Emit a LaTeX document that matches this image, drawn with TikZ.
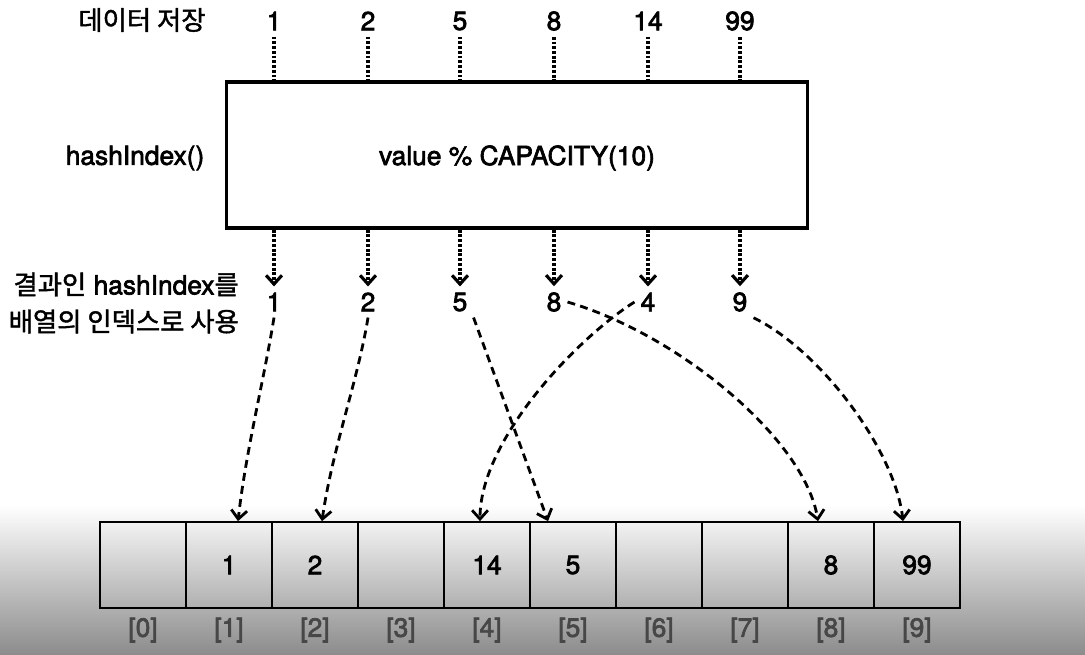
\documentclass[tikz,border=0pt]{standalone}
\usepackage{fontspec}
\setmainfont{TeX Gyre Heros}[FakeBold=2.5]
\newfontfamily\kofont{Noto Sans CJK KR}[FakeBold=1.5]
\usetikzlibrary{arrows.meta}

\begin{document}
\begin{tikzpicture}[x=0.02cm,y=-0.02cm,
  every node/.style={font=\fontsize{15}{18}\selectfont},
  cell/.style={draw,line width=1pt,minimum width=1.72cm,minimum height=1.72cm,inner sep=0pt},
  idx/.style={text=black!72},
  feed/.style={line width=1.8pt,dash pattern=on 1.6pt off 1.1pt},
  tip/.style={-{Straight Barb[length=5pt,width=9pt]}},
  place/.style={line width=1.6pt,dash pattern=on 4.5pt off 3pt,tip}]

\useasboundingbox (0,0) rectangle (1085,654);
\shade[top color=white,bottom color=black!45] (0,505) rectangle (1085,654);

% input values
\node (store) at (142,20) {\kofont 데이터 저장};
\node (n1) at (274,21) {1};
\node (n2) at (368,21) {2};
\node (n3) at (460,21) {5};
\node (n4) at (554,21) {8};
\node (n5) at (648,21) {14};
\node (n6) at (740,21) {99};

% hash function
\node[draw,line width=2pt,minimum width=11.62cm,minimum height=2.92cm] (hash) at (517,155) {};
\node (calc) at (517,158) {value \% CAPACITY(10)};
\node (fn) at (135,158) {hashIndex()};

\draw[feed] (n1) -- (n1 |- hash.north);
\draw[feed] (n2) -- (n2 |- hash.north);
\draw[feed] (n3) -- (n3 |- hash.north);
\draw[feed] (n4) -- (n4 |- hash.north);
\draw[feed] (n5) -- (n5 |- hash.north);
\draw[feed] (n6) -- (n6 |- hash.north);

% resulting indexes
\node (r1) at (274,302) {1};
\node (r2) at (368,302) {2};
\node (r3) at (460,302) {5};
\node (r4) at (554,302) {8};
\node (r5) at (648,302) {4};
\node (r6) at (740,302) {9};
\node[anchor=east,align=right,font=\fontsize{15}{21}\selectfont] (note) at (245,303)
  {{\kofont 결과인} hashIndex{\kofont 를}\\{\kofont 배열의 인덱스로 사용}};

\draw[feed,tip] (hash.south -| r1) -- (r1.north);
\draw[feed,tip] (hash.south -| r2) -- (r2.north);
\draw[feed,tip] (hash.south -| r3) -- (r3.north);
\draw[feed,tip] (hash.south -| r4) -- (r4.north);
\draw[feed,tip] (hash.south -| r5) -- (r5.north);
\draw[feed,tip] (hash.south -| r6) -- (r6.north);

% array
\node[cell] (c0) at (143,565) {};
\node[cell] (c1) at (229,565) {1};
\node[cell] (c2) at (315,565) {2};
\node[cell] (c3) at (401,565) {};
\node[cell] (c4) at (487,565) {14};
\node[cell] (c5) at (573,565) {5};
\node[cell] (c6) at (659,565) {};
\node[cell] (c7) at (745,565) {};
\node[cell] (c8) at (831,565) {8};
\node[cell] (c9) at (917,565) {99};

\node[idx] (i0) at (143,630) {[0]};
\node[idx] (i1) at (229,630) {[1]};
\node[idx] (i2) at (315,630) {[2]};
\node[idx] (i3) at (401,630) {[3]};
\node[idx] (i4) at (487,630) {[4]};
\node[idx] (i5) at (573,630) {[5]};
\node[idx] (i6) at (659,630) {[6]};
\node[idx] (i7) at (745,630) {[7]};
\node[idx] (i8) at (831,630) {[8]};
\node[idx] (i9) at (917,630) {[9]};

% index -> slot
\draw[place] (r1.south) .. controls (264,380) and (246,450) .. ([xshift=0.18cm]c1.north);
\draw[place] (r2.south) .. controls (358,380) and (332,450) .. ([xshift=0.14cm]c2.north);
\draw[place] (r3.south east) -- ([xshift=-0.5cm]c5.north);
\draw[place] (r5.west) .. controls (576,339) and (480,440) .. ([xshift=-0.14cm]c4.north);
\draw[place] (r4.east) .. controls (680,335) and (805,440) .. ([xshift=-0.26cm]c8.north);
\draw[place] (r6.south east) .. controls (820,350) and (895,450) .. ([xshift=-0.28cm]c9.north);

\end{tikzpicture}
\end{document}
